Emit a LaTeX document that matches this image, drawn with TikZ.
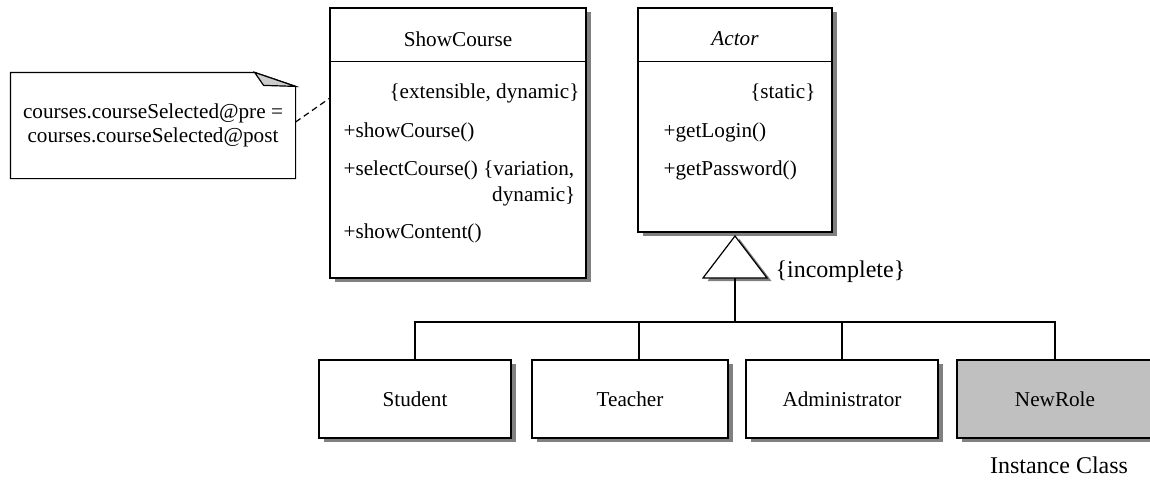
\documentclass[tikz,border=0pt]{standalone}
\usepackage{fontspec}
\setmainfont{Liberation Serif}
\usetikzlibrary{shadows}
\definecolor{shadowgray}{HTML}{808080}
\definecolor{rolegray}{HTML}{C0C0C0}
\definecolor{flapgray}{HTML}{CCCCCC}
\begin{document}
\begin{tikzpicture}[x=1pt,y=-1pt,line width=1.2pt,
  every node/.style={font=\fontsize{21.2pt}{24pt}\selectfont, inner sep=0pt},
  classbox/.style={draw, fill=white,
    general shadow={fill=shadowgray, shadow xshift=4.5pt, shadow yshift=-4pt}},
  item/.style={anchor=west},
  prop/.style={anchor=east},
  big/.style={font=\fontsize{24pt}{28pt}\selectfont},
  notelink/.style={dash pattern=on 6pt off 4pt}]
\useasboundingbox (0,0) rectangle (1150,479);
\clip (0,0) rectangle (1150,479);

% ---- ShowCourse class ----
\node[classbox, minimum width=256pt, minimum height=270pt] (sc) at (458,143) {};
\draw ([yshift=-54pt]sc.north west) -- ([yshift=-54pt]sc.north east);
\node (sct) at (458,39) {ShowCourse};
\node[prop] (sc1) at (580,93) {\{extensible, dynamic\}};
\node[item] (sc2) at (343,132) {+showCourse()};
\node[item] (sc3) at (343,170) {+selectCourse() \{variation,};
\node[prop] (sc4) at (576,196) {dynamic\}};
\node[item] (sc5) at (343,233) {+showContent()};

% ---- Actor class ----
\node[classbox, minimum width=194pt, minimum height=224pt] (act) at (735,120) {};
\draw ([yshift=-54pt]act.north west) -- ([yshift=-54pt]act.north east);
\node (actt) at (735,39) {\itshape Actor};
\node[prop] (act1) at (816,93) {\{static\}};
\node[item] (act2) at (663,132) {+getLogin()};
\node[item] (act3) at (663,170) {+getPassword()};

% ---- generalization triangle ----
\coordinate (ta) at (735,236);
\coordinate (tb) at (735,278);
\fill[shadowgray] (739.5,239) -- (771.5,281) -- (707.5,281) -- cycle;
\draw[fill=white] (ta) -- (767,278) -- (703,278) -- cycle;
\node[big, anchor=west] (inc) at (775,272) {\{incomplete\}};

% ---- subclasses ----
\node[classbox, minimum width=192pt, minimum height=78pt] (stu) at (415,399) {Student};
\node[classbox, minimum width=196pt, minimum height=78pt] (tea) at (630,399) {Teacher};
\node[classbox, minimum width=192pt, minimum height=78pt] (adm) at (842,399) {Administrator};
\node[classbox, fill=rolegray, minimum width=196pt, minimum height=78pt] (nr) at (1055,399) {NewRole};
\node[big] (ic) at (1059,465) {Instance Class};

% ---- generalization tree ----
\coordinate (bus) at (735,322);
\draw (tb) -- (bus);
\draw (stu.north) |- (nr.north |- bus) -- (nr.north);
\draw ([xshift=9pt]tea.north) -- ([xshift=9pt]tea.north |- bus);
\draw (adm.north) -- (adm.north |- bus);

% ---- constraint note ----
\node[minimum width=284pt, minimum height=105pt, align=center] (note) at (153,125.5)
  {courses.courseSelected@pre =\\courses.courseSelected@post};
\draw (note.north west) -- ([xshift=-41pt]note.north east)
  -- ([yshift=-14pt]note.north east) -- (note.south east) -- (note.south west) -- cycle;
\filldraw[fill=flapgray] ([xshift=-41pt]note.north east) -- ([yshift=-14pt]note.north east)
  -- ([xshift=-32pt,yshift=-13pt]note.north east) -- cycle;
\draw[notelink] ([yshift=3.5pt]note.east) -- ([yshift=-91pt]sc.north west);
\end{tikzpicture}
\end{document}
